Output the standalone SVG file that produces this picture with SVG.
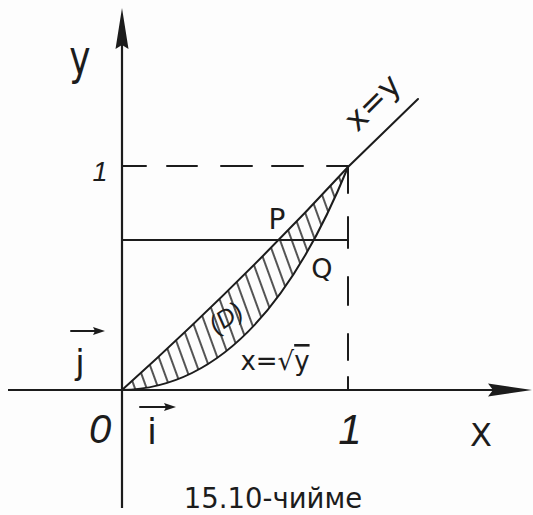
<svg xmlns="http://www.w3.org/2000/svg" width="533" height="515" viewBox="0 0 533 515">
<style>
.ln{stroke:#1c1c1c;stroke-width:2;fill:none;stroke-linecap:round}
.ax{stroke:#1c1c1c;stroke-width:2.2;fill:none}
.hd{fill:#1c1c1c;stroke:none}
.lb{font-family:"DejaVu Sans",sans-serif;fill:#1c1c1c}
.it{font-family:"Liberation Sans",sans-serif;font-style:italic;fill:#1c1c1c}
</style>
<defs>
<pattern id="hatch" patternUnits="userSpaceOnUse" width="11" height="11" patternTransform="rotate(-20)">
<line x1="5" y1="-1" x2="5" y2="12" stroke="#1c1c1c" stroke-width="1.5"/>
</pattern>
<clipPath id="regionClip"><path d="M122,390 Q240,284 348,167 Q258,388 122,390 Z"/></clipPath>
</defs>
<rect width="533" height="515" fill="#fdfdfd"/>
<g id="axes">
<line class="ax" x1="122" y1="40" x2="122" y2="508"/>
<polygon class="hd" points="122,8 115.5,49 122,45 128.5,49"/>
<line class="ax" x1="8" y1="390" x2="500" y2="390"/>
<polygon class="hd" points="532,390 488,383.5 493,390 488,396.5"/>
</g>
<g id="guides">
<path class="ln" d="M122,166 H146 M167,166 H197 M221,166 H252 M272,166 H303 M327,166 H348"/>
<path class="ln" d="M348,167 V193 M348,217 V248 M348,277 V305 M348,334 V360 M348,377 V390"/>
<line class="ln" x1="122" y1="240" x2="348" y2="240"/>
</g>
<g id="region">
<rect x="110" y="160" width="250" height="240" fill="url(#hatch)" clip-path="url(#regionClip)"/>
<path class="ln" d="M122,390 Q240,284 348,167 L418,99"/>
<path class="ln" d="M122,390 Q258,388 348,167"/>
</g>
<g id="vectors">
<line class="ln" x1="71" y1="331" x2="98" y2="331"/>
<polygon class="hd" points="105,331 93,327 95,331 93,335"/>
<line class="ln" x1="140" y1="407" x2="169" y2="407"/>
<polygon class="hd" points="176,407 164,403 166,407 164,411"/>
</g>
<g id="labels">
<text class="lb" x="80" y="74" font-size="48" text-anchor="middle" transform="translate(80 0) scale(0.75 1) translate(-80 0)">y</text>
<text class="it" x="100" y="181" font-size="27" text-anchor="middle">1</text>
<text class="lb" x="373" y="113" font-size="32" text-anchor="middle" transform="rotate(-45 373 103)">x=y</text>
<text class="lb" x="277" y="229" font-size="28" text-anchor="middle">P</text>
<text class="lb" x="322" y="278" font-size="27" text-anchor="middle">Q</text>
<text class="it" x="226" y="326" font-size="25" text-anchor="middle" transform="rotate(-35 226 318)">(D)</text>
<text class="lb" x="275" y="370" font-size="26" text-anchor="middle">x=√<tspan text-decoration="overline">y</tspan></text>
<text class="lb" x="80" y="374" font-size="34" text-anchor="middle">j</text>
<text class="it" x="100" y="443" font-size="40" text-anchor="middle">0</text>
<text class="lb" x="152" y="444" font-size="36" text-anchor="middle">i</text>
<text class="it" x="350" y="444" font-size="42" text-anchor="middle">1</text>
<text class="lb" x="481" y="446" font-size="32" text-anchor="middle">X</text>
<text class="lb" x="273" y="508" font-size="27.5" text-anchor="middle">15.10-чийме</text>
</g>
</svg>
